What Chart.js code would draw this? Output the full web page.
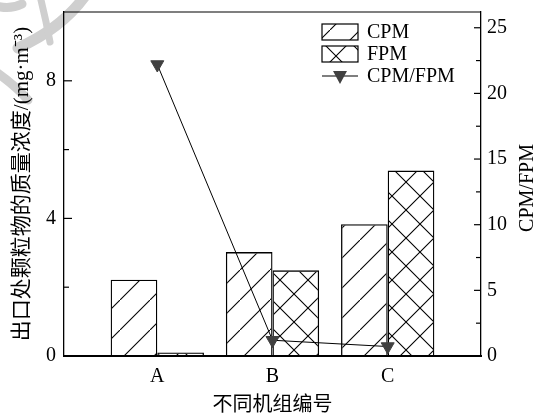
<!DOCTYPE html>
<html>
<head>
<meta charset="utf-8">
<script src="https://cdn.jsdelivr.net/npm/chart.js@4.4.1/dist/chart.umd.min.js"></script>
<style>
  html, body { margin: 0; padding: 0; background: #fff; }
  #box { width: 536px; height: 414px; }
</style>
</head>
<body>
<div id="box"><canvas id="grafico"></canvas></div>
<script>
const categorias = ["A", "B", "C"];
const valoresCPM = [2.22, 3.02, 3.83];
const valoresFPM = [0.1, 2.49, 5.39];
const razao = [22.2, 1.2, 0.72];
const ticksEsq = [0, 4, 8];
const ticksDir = [0, 5, 10, 15, 20, 25];

const serif = '"Liberation Serif", "Noto Sans CJK SC", serif';

// hachuras
function hachura(passo, cruzado) {
    const c = document.createElement("canvas");
    c.width = passo;
    c.height = passo;
    const g = c.getContext("2d");
    g.strokeStyle = "#000";
    g.lineWidth = 1.1;
    g.beginPath();
    g.moveTo(-1, passo + 1);
    g.lineTo(passo + 1, -1);
    if (cruzado) {
        g.moveTo(-1, -1);
        g.lineTo(passo + 1, passo + 1);
    }
    g.stroke();
    return g.createPattern(c, "repeat");
}

const padraoCPM = hachura(30, false);
const padraoFPM = hachura(28, true);

const pontos = arr => arr.map((v, i) => ({ x: i, y: v }));

const semPadding = s => {
    s.paddingTop = 0;
    s.paddingBottom = 0;
    s.paddingLeft = 0;
    s.paddingRight = 0;
};

const marcaFundo = {
    id: "marcaFundo",
    beforeDraw(chart) {
        const ctx = chart.ctx;
        ctx.save();
        ctx.strokeStyle = "#cfcfcf";
        ctx.lineCap = "round";
        ctx.lineWidth = 11;
        ctx.beginPath();
        ctx.moveTo(85, -4);
        ctx.quadraticCurveTo(62, 28, 18, 48);
        ctx.stroke();
        ctx.lineWidth = 7;
        ctx.beginPath();
        ctx.moveTo(40, -4);
        ctx.quadraticCurveTo(46, 20, 50, 42);
        ctx.stroke();
        ctx.lineWidth = 9;
        ctx.beginPath();
        ctx.moveTo(-4, 72);
        ctx.quadraticCurveTo(16, 86, 28, 100);
        ctx.stroke();
        ctx.beginPath();
        ctx.moveTo(-4, 6);
        ctx.quadraticCurveTo(10, 10, 22, 4);
        ctx.stroke();
        ctx.restore();
    }
};

const molduraEticks = {
    id: "molduraEticks",
    afterDraw(chart) {
        const ctx = chart.ctx;
        const a = chart.chartArea;
        ctx.save();
        ctx.strokeStyle = "#000";
        ctx.lineWidth = 1.2;
        ctx.beginPath();
        ctx.moveTo(a.left, a.top);
        ctx.lineTo(a.right, a.top);
        ctx.stroke();

        // ticks para dentro
        const y = chart.scales.y;
        y.ticks.forEach(t => {
            if (t.value <= y.min || t.value >= y.max) return;
            const p = y.getPixelForValue(t.value);
            const len = ticksEsq.includes(t.value) ? 8 : 5;
            ctx.beginPath();
            ctx.moveTo(a.left, p);
            ctx.lineTo(a.left + len, p);
            ctx.stroke();
        });
        const y1 = chart.scales.y1;
        y1.ticks.forEach(t => {
            if (t.value <= y1.min || t.value >= y1.max) return;
            const p = y1.getPixelForValue(t.value);
            const len = ticksDir.includes(t.value) ? 7 : 5;
            ctx.beginPath();
            ctx.moveTo(a.right, p);
            ctx.lineTo(a.right - len, p);
            ctx.stroke();
        });

        // titulo do eixo direito, de baixo para cima
        ctx.fillStyle = "#000";
        ctx.font = "20px " + serif;
        ctx.textAlign = "center";
        ctx.textBaseline = "middle";
        ctx.translate(a.right + 47, (a.top + a.bottom) / 2 + 4);
        ctx.rotate(-Math.PI / 2);
        ctx.fillText("CPM/FPM", 0, 0);
        ctx.restore();

        // legenda
        ctx.save();
        const lx = a.right - 159;
        const linhas = [a.top + 20, a.top + 42, a.top + 64];
        const ds = chart.data.datasets;
        ctx.lineWidth = 1.2;
        ctx.strokeStyle = "#000";
        [0, 1].forEach(i => {
            ctx.fillStyle = "#fff";
            ctx.fillRect(lx, linhas[i] - 8, 36, 16);
            ctx.fillStyle = ds[i].backgroundColor;
            ctx.fillRect(lx, linhas[i] - 8, 36, 16);
            ctx.strokeRect(lx, linhas[i] - 8, 36, 16);
        });
        ctx.beginPath();
        ctx.moveTo(lx, linhas[2]);
        ctx.lineTo(lx + 36, linhas[2]);
        ctx.stroke();
        ctx.fillStyle = "#404040";
        ctx.beginPath();
        ctx.moveTo(lx + 11, linhas[2] - 5);
        ctx.lineTo(lx + 25, linhas[2] - 5);
        ctx.lineTo(lx + 18, linhas[2] + 8);
        ctx.closePath();
        ctx.fill();
        ctx.fillStyle = "#000";
        ctx.font = "20px " + serif;
        ctx.textBaseline = "middle";
        ds.forEach((d, i) => ctx.fillText(d.label, lx + 45, linhas[i] + 1));
        ctx.restore();
    }
};

const ctx = document.getElementById("grafico").getContext("2d");
new Chart(ctx, {
    data: {
        datasets: [
            {
                type: "bar",
                label: "CPM",
                data: pontos(valoresCPM),
                backgroundColor: padraoCPM,
                borderColor: "#000",
                borderWidth: 1.3,
                categoryPercentage: 0.81,
                barPercentage: 1.0,
                yAxisID: "y",
                order: 2
            },
            {
                type: "bar",
                label: "FPM",
                data: pontos(valoresFPM),
                backgroundColor: padraoFPM,
                borderColor: "#000",
                borderWidth: 1.3,
                categoryPercentage: 0.81,
                barPercentage: 1.0,
                yAxisID: "y",
                order: 2
            },
            {
                type: "line",
                label: "CPM/FPM",
                data: pontos(razao),
                borderColor: "#000",
                borderWidth: 1,
                backgroundColor: "#404040",
                pointBackgroundColor: "#404040",
                pointBorderColor: "#404040",
                pointStyle: "triangle",
                rotation: 180,
                pointRadius: 7.5,
                yAxisID: "y1",
                order: 1
            }
        ]
    },
    options: {
        responsive: true,
        maintainAspectRatio: false,
        animation: false,
        layout: { padding: { top: 12, left: 0, right: 0, bottom: 0 } },
        plugins: {
            legend: { display: false },
            tooltip: { enabled: false }
        },
        scales: {
            x: {
                type: "linear",
                offset: false,
                min: -0.81,
                max: 2.81,
                afterBuildTicks: s => { s.ticks = categorias.map((c, i) => ({ value: i })); },
                afterFit: s => { s.height = 58; semPadding(s); },
                grid: { display: false, drawTicks: false, offset: false },
                border: { color: "#000", width: 2 },
                ticks: {
                    color: "#000",
                    font: { family: serif, size: 20 },
                    padding: 9,
                    callback: v => categorias[v]
                },
                title: {
                    display: true,
                    text: "不同机组编号",
                    color: "#000",
                    font: { family: serif, size: 20, lineHeight: 0.8 },
                    padding: 0
                }
            },
            y: {
                position: "left",
                min: 0,
                max: 10,
                afterFit: s => { s.width = 64; semPadding(s); },
                grid: { display: false, drawTicks: false },
                border: { color: "#000", width: 1.3 },
                ticks: {
                    stepSize: 2,
                    includeBounds: false,
                    color: "#000",
                    font: { family: serif, size: 20 },
                    padding: 8,
                    callback: v => ticksEsq.includes(v) ? v : ""
                },
                title: {
                    display: true,
                    text: "出口处颗粒物的质量浓度/(mg·m⁻³)",
                    color: "#000",
                    font: { family: serif, size: 21, lineHeight: 1.2 },
                    padding: { top: 10, bottom: 0 }
                }
            },
            y1: {
                position: "right",
                min: 0,
                max: 26.2,
                afterFit: s => { s.width = 55; semPadding(s); },
                grid: { display: false, drawTicks: false },
                border: { color: "#000", width: 1.3 },
                ticks: {
                    stepSize: 2.5,
                    includeBounds: false,
                    color: "#000",
                    font: { family: serif, size: 20 },
                    padding: 6,
                    callback: v => ticksDir.includes(v) ? v : ""
                }
            }
        }
    },
    plugins: [marcaFundo, molduraEticks]
});
</script>
</body>
</html>
